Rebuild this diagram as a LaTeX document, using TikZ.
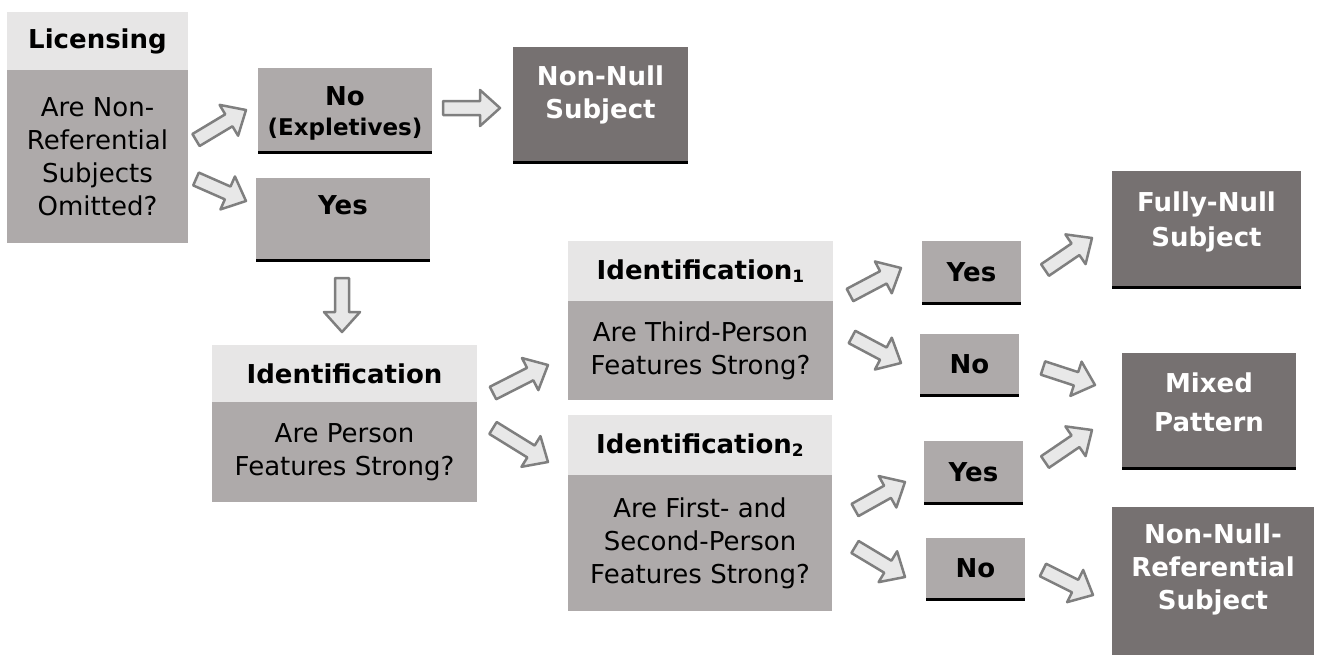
\documentclass[tikz,border=0pt]{standalone}
\usepackage{fontspec}
\setmainfont{DejaVu Sans}
\usetikzlibrary{calc}
\usetikzlibrary{positioning}

\definecolor{boxlight}{HTML}{E7E6E6}
\definecolor{boxmid}{HTML}{AEAAAA}
\definecolor{boxdark}{HTML}{767171}
\definecolor{arrowfill}{HTML}{E8E8E8}
\definecolor{arrowline}{HTML}{7F7F7F}

\newcommand{\boxfont}{\fontsize{26}{33}\selectfont}
\newcommand{\idx}[1]{\raisebox{-3pt}{\fontsize{17}{20}\selectfont #1}}

\tikzset{
  box/.style={rectangle,inner sep=0pt,outer sep=0pt,align=center,font=\boxfont},
  headbox/.style={box,fill=boxlight,font=\boxfont\bfseries},
  bodybox/.style={box,fill=boxmid},
  darkbox/.style={box,fill=boxdark},
  answer/.style={bodybox,font=\boxfont\bfseries,minimum width=99,minimum height=62},
  boldtext/.style={box,font=\boxfont\bfseries},
  darktext/.style={box,text=white,font=\boxfont\bfseries},
  boxfoot/.style={draw=black,line width=3pt,line cap=butt},
  bigarrow/.style={fill=arrowfill,draw=arrowline,line width=2.5pt}
}

% block arrow from one named coordinate to another
\newcommand{\bigarrow}[2]{%
  \draw[bigarrow] let \p1=($(#2)-(#1)$),\n1={atan2(\y1,\x1)},\n2={veclen(\x1,\y1)} in
    [shift={(#1)},rotate=\n1] (0pt,-7pt) -- ({\n2-20pt},-7pt) -- ({\n2-20pt},-18pt) -- ({\n2+0pt},0pt)
    -- ({\n2-20pt},18pt) -- ({\n2-20pt},7pt) -- (0pt,7pt) -- cycle;}

\begin{document}
\begin{tikzpicture}[line cap=round,line join=round,x=1pt,y=-1pt]
\clip(0,0) rectangle (1317,654);
% licensing
\node[headbox,minimum width=181,minimum height=58] (lichead) at (97.5,41) {Licensing};
\node[bodybox,minimum width=181,minimum height=173,below=0pt of lichead] (licbody) {Are Non-\\Referential\\Subjects\\Omitted?};
\node[bodybox,minimum width=174,minimum height=84] (noexp) at (345,110) {};
\node[boldtext] (noexp-t) at (345,113) {No\\[-3pt]{\fontsize{23}{26}\selectfont (Expletives)}};
\node[bodybox,minimum width=174,minimum height=82] (yes0) at (343,219) {};
\node[boldtext] (yes0-t) at (343,205) {Yes};
\node[darkbox,minimum width=175,minimum height=115] (nonnull) at (600.5,104.5) {};
\node[darktext] (nonnull-t) at (600.5,95) {Non-Null\\Subject};
% identification
\node[headbox,minimum width=265,minimum height=57] (idhead) at (344.5,373.5) {Identification};
\node[bodybox,minimum width=265,minimum height=100,below=0pt of idhead] (idbody) {Are Person\\Features Strong?};
\node[headbox,minimum width=265,minimum height=60] (id1head) at (700.5,271) {Identification\idx{1}};
\node[bodybox,minimum width=265,minimum height=99,below=0pt of id1head] (id1body) {Are Third-Person\\Features Strong?};
\node[headbox,minimum width=264,minimum height=60] (id2head) at (700,445) {Identification\idx{2}};
\node[bodybox,minimum width=264,minimum height=136,below=0pt of id2head] (id2body) {Are First- and\\Second-Person\\Features Strong?};
% answers
\node[answer] (yes1) at (971.5,272) {Yes};
\node[answer] (no1) at (969.5,364.5) {No};
\node[answer] (yes2) at (973.5,472) {Yes};
\node[answer] (no2) at (975.5,568.5) {No};
% outcomes
\node[darkbox,minimum width=189,minimum height=116] (fully) at (1206.5,229) {};
\node[darktext] (fully-t) at (1206.5,222) {Fully-Null\\[2pt]Subject};
\node[darkbox,minimum width=174,minimum height=115] (mixed) at (1209,410.5) {};
\node[darktext] (mixed-t) at (1209,402.5) {Mixed\\[6pt]Pattern};
\node[darkbox,minimum width=202,minimum height=155] (nnref) at (1213,584.5) {};
\node[darktext] (nnref-t) at (1213,569) {Non-Null-\\Referential\\Subject};
% black feet
\draw[boxfoot] (noexp.south west) -- (noexp.south east);
\draw[boxfoot] (yes0.south west) -- (yes0.south east);
\draw[boxfoot] (nonnull.south west) -- (nonnull.south east);
\draw[boxfoot] (yes1.south west) -- (yes1.south east);
\draw[boxfoot] (no1.south west) -- (no1.south east);
\draw[boxfoot] (yes2.south west) -- (yes2.south east);
\draw[boxfoot] (no2.south west) -- (no2.south east);
\draw[boxfoot] (fully.south west) -- (fully.south east);
\draw[boxfoot] (mixed.south west) -- (mixed.south east);
% arrow ends
\coordinate (a1) at (196,140); \coordinate (b1) at (246,110);
\coordinate (a2) at (196,179); \coordinate (b2) at (246,201);
\coordinate (a3) at (443,108); \coordinate (b3) at (500,108);
\coordinate (a4) at (342,278); \coordinate (b4) at (342,332);
\coordinate (a5) at (493,393); \coordinate (b5) at (548,365);
\coordinate (a6) at (493,428); \coordinate (b6) at (548,462);
\coordinate (a7) at (850,295); \coordinate (b7) at (901,268);
\coordinate (a8) at (852,337); \coordinate (b8) at (901,363);
\coordinate (a9) at (1045,270); \coordinate (b9) at (1092,238);
\coordinate (a10) at (1043,368); \coordinate (b10) at (1095,385);
\coordinate (a11) at (1045,462); \coordinate (b11) at (1092,430);
\coordinate (a12) at (855,510); \coordinate (b12) at (905,482);
\coordinate (a13) at (855,547); \coordinate (b13) at (905,577);
\coordinate (a14) at (1043,570); \coordinate (b14) at (1093,595);
\bigarrow{a1}{b1}
\bigarrow{a2}{b2}
\bigarrow{a3}{b3}
\bigarrow{a4}{b4}
\bigarrow{a5}{b5}
\bigarrow{a6}{b6}
\bigarrow{a7}{b7}
\bigarrow{a8}{b8}
\bigarrow{a9}{b9}
\bigarrow{a10}{b10}
\bigarrow{a11}{b11}
\bigarrow{a12}{b12}
\bigarrow{a13}{b13}
\bigarrow{a14}{b14}
\end{tikzpicture}
\end{document}
